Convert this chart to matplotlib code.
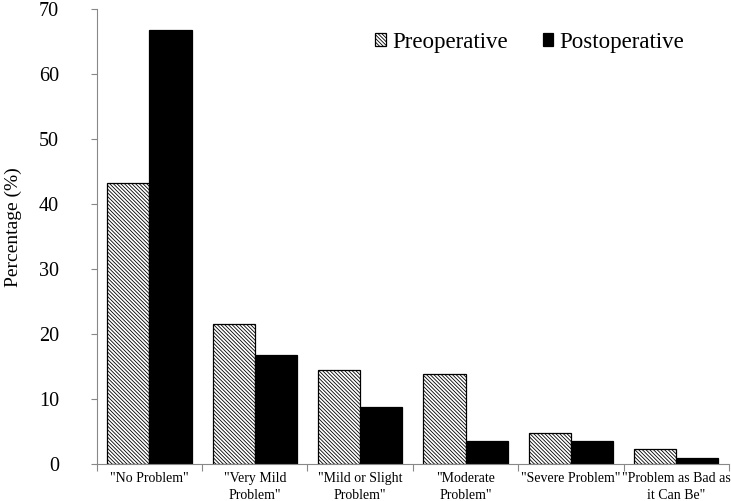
import numpy as np
import matplotlib.pyplot as plt

categories = ['"No Problem"', '"Very Mild\nProblem"', '"Mild or Slight\nProblem"',
              '"Moderate\nProblem"', '"Severe Problem"', '"Problem as Bad as\nit Can Be"']
preop = [43.2, 21.6, 14.4, 13.8, 4.8, 2.3]
postop = [66.8, 16.8, 8.8, 3.6, 3.6, 0.9]

plt.rcParams['font.family'] = ['Liberation Serif', 'DejaVu Serif']
plt.rcParams['hatch.linewidth'] = 0.6

fig = plt.figure(figsize=(7.31, 5.01), dpi=100)
ax = fig.add_axes([0.1323, 0.074, 0.865, 0.908])

x = np.arange(len(categories))
w = 0.4
ax.bar(x - w/2, preop, w, color='white', edgecolor='black', hatch='\\' * 9,
       linewidth=0.9, label='Preoperative')
ax.bar(x + w/2, postop, w, color='black', edgecolor='black', linewidth=0.9,
       label='Postoperative')

ax.set_xlim(-0.5, len(categories) - 0.5)
ax.set_ylim(0, 70)
ax.set_yticks(range(0, 71, 10))
ax.tick_params(axis='y', labelsize=14.5, length=4, color='#888888', pad=23)

# ticks between categories on x axis
ax.set_xticks(np.arange(-0.5, len(categories), 1))
ax.set_xticklabels([])
ax.set_xticks(x, minor=True)
ax.set_xticklabels(categories, minor=True, fontsize=10, linespacing=1.35)
ax.tick_params(axis='x', which='major', length=5, color='#888888')
ax.tick_params(axis='x', which='minor', length=0, pad=6)

for s in ['top', 'right']:
    ax.spines[s].set_visible(False)
ax.spines['left'].set_color('#888888')
ax.spines['bottom'].set_color('#888888')

ax.set_ylabel('Percentage (%)', fontsize=14, labelpad=12)
ax.yaxis.set_label_coords(-0.118, 0.52)

ax.legend(loc='center', bbox_to_anchor=(0.725, 0.916), bbox_transform=fig.transFigure,
          ncol=2, frameon=False, fontsize=16.5, handlelength=0.45, handleheight=0.45,
          handletextpad=0.3, columnspacing=1.5)

fig.savefig('out.png', dpi=100)
